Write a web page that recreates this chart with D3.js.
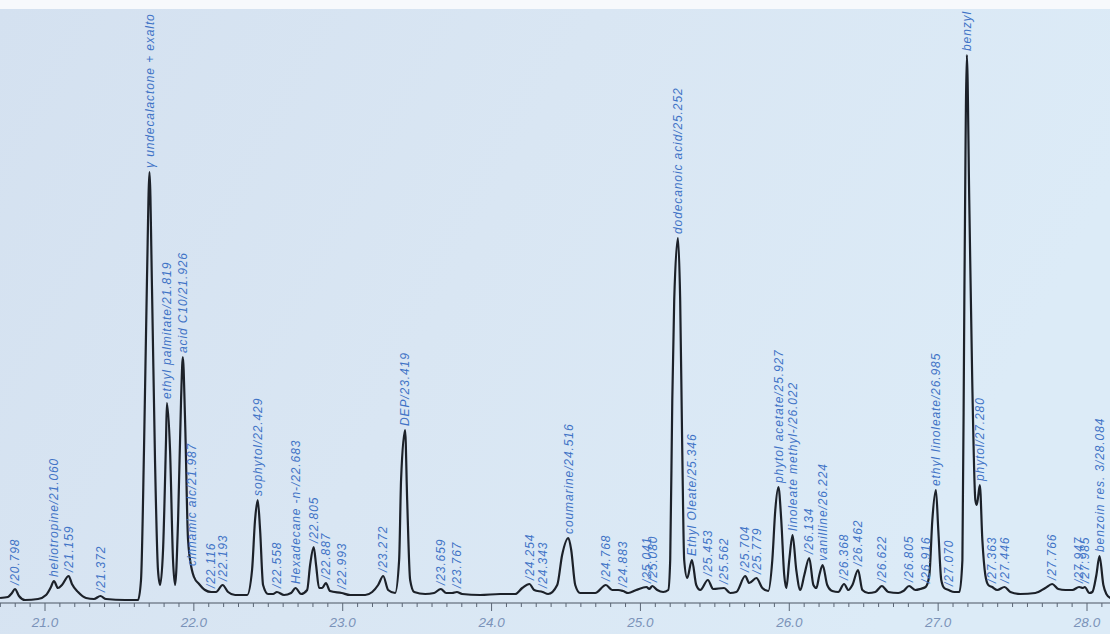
<!DOCTYPE html>
<html>
<head>
<meta charset="utf-8">
<script src="https://cdn.jsdelivr.net/npm/d3@7"></script>
<style>
  html, body { margin: 0; padding: 0; background: #d8e5f2; }
  svg { display: block; }
</style>
</head>
<body>
<svg id="chrom" width="1110" height="634"></svg>
<script>
// retention time (min) / signal
const traceTime = [
  20.698, 20.751, 20.778, 20.798, 20.825, 20.866, 20.953, 21.007, 21.040, 21.060,
  21.087, 21.114, 21.159, 21.181, 21.222, 21.276, 21.329, 21.372, 21.410, 21.538,
  21.625, 21.645, 21.665, 21.685, 21.702, 21.719, 21.739, 21.759, 21.773, 21.793,
  21.813, 21.819, 21.840, 21.860, 21.874, 21.894, 21.914, 21.926, 21.941, 21.961,
  21.987, 22.001, 22.035, 22.075, 22.116, 22.149, 22.193, 22.230, 22.277, 22.358,
  22.391, 22.411, 22.429, 22.445, 22.465, 22.499, 22.532, 22.558, 22.606, 22.653,
  22.683, 22.720, 22.761, 22.781, 22.805, 22.821, 22.841, 22.862, 22.887, 22.915,
  22.993, 23.050, 23.151, 23.198, 23.238, 23.272, 23.305, 23.352, 23.379, 23.392,
  23.419, 23.433, 23.453, 23.480, 23.554, 23.614, 23.659, 23.695, 23.735, 23.767,
  23.802, 23.923, 24.058, 24.159, 24.206, 24.254, 24.286, 24.343, 24.380, 24.441,
  24.474, 24.516, 24.535, 24.562, 24.595, 24.696, 24.768, 24.810, 24.851, 24.883,
  24.918, 24.972, 25.041, 25.059, 25.080, 25.113, 25.153, 25.187, 25.200, 25.214,
  25.227, 25.252, 25.267, 25.281, 25.294, 25.314, 25.346, 25.375, 25.402, 25.453,
  25.489, 25.562, 25.603, 25.644, 25.704, 25.731, 25.779, 25.819, 25.859, 25.886,
  25.906, 25.927, 25.946, 25.966, 25.980, 26.000, 26.022, 26.047, 26.074, 26.101,
  26.134, 26.162, 26.182, 26.202, 26.224, 26.255, 26.289, 26.329, 26.368, 26.397,
  26.424, 26.462, 26.491, 26.531, 26.578, 26.622, 26.665, 26.732, 26.766, 26.805,
  26.847, 26.880, 26.916, 26.941, 26.961, 26.985, 27.001, 27.021, 27.041, 27.070,
  27.109, 27.143, 27.163, 27.176, 27.193, 27.209, 27.229, 27.250, 27.260, 27.280,
  27.297, 27.317, 27.337, 27.363, 27.397, 27.446, 27.485, 27.552, 27.653, 27.720,
  27.766, 27.807, 27.855, 27.902, 27.947, 27.973, 27.985, 28.016, 28.036, 28.063,
  28.084, 28.110, 28.130, 28.157
];
const traceSignal = [
  2, 3, 7, 11, 4, 0, 1, 5, 13, 19,
  12, 15, 24, 16, 8, 2, 1, 4, 1, 0,
  0, 20, 150, 320, 428, 310, 140, 30, 15, 50,
  160, 197, 150, 40, 15, 80, 200, 243, 180, 60,
  30, 23, 16, 10, 8, 8, 15, 8, 5, 5,
  30, 80, 100, 70, 15, 6, 6, 8, 5, 7,
  12, 6, 10, 35, 53, 35, 12, 12, 17, 9,
  7, 5, 5, 8, 15, 24, 10, 7, 40, 120,
  170, 100, 20, 8, 6, 7, 11, 7, 7, 8,
  6, 5, 6, 6, 12, 16, 10, 8, 6, 15,
  45, 62, 50, 15, 7, 7, 15, 10, 10, 9,
  7, 10, 13, 11, 14, 10, 8, 10, 40, 200,
  300, 362, 300, 150, 40, 22, 40, 15, 10, 20,
  11, 12, 7, 8, 24, 17, 22, 12, 9, 40,
  90, 113, 80, 25, 12, 40, 65, 30, 10, 25,
  42, 15, 12, 25, 35, 15, 9, 8, 16, 10,
  15, 30, 10, 7, 8, 14, 8, 7, 9, 14,
  10, 11, 13, 25, 80, 110, 70, 20, 12, 10,
  8, 8, 40, 300, 545, 400, 220, 100, 95, 115,
  60, 25, 15, 13, 10, 13, 8, 6, 7, 12,
  16, 11, 10, 10, 13, 12, 13, 7, 8, 25,
  44, 15, 6, 2
];

// peak annotations: retention time, apex signal, printed text
// (the two tallest labels run off the top of the sheet; only the visible part is kept)
const peakTimes = [
  20.798, 21.060, 21.159, 21.372, 21.702, 21.819, 21.926, 21.987, 22.116, 22.193,
  22.429, 22.558, 22.683, 22.805, 22.887, 22.993, 23.272, 23.419, 23.659, 23.767,
  24.254, 24.343, 24.516, 24.768, 24.883, 25.041, 25.080, 25.252, 25.346, 25.453,
  25.562, 25.704, 25.779, 25.927, 26.022, 26.134, 26.224, 26.368, 26.462, 26.622,
  26.805, 26.916, 26.985, 27.070, 27.193, 27.280, 27.363, 27.446, 27.766, 27.947,
  27.985, 28.084
];
const peakHeights = [
  11, 19, 24, 4, 428, 197, 243, 30, 8, 15,
  100, 8, 12, 53, 17, 7, 24, 170, 11, 8,
  16, 8, 62, 15, 9, 13, 14, 362, 40, 20,
  12, 24, 22, 113, 65, 42, 35, 16, 30, 14,
  14, 13, 110, 10, 545, 115, 13, 13, 16, 13,
  13, 44
];
const peakNames = [
  "/20.798", "heliotropine/21.060", "/21.159", "/21.372",
  "γ undecalactone + exalto", "ethyl palmitate/21.819", "acid C10/21.926",
  "cinnamic alc/21.987", "/22.116", "/22.193", "sophytol/22.429", "/22.558",
  "Hexadecane -n-/22.683", "/22.805", "/22.887", "/22.993", "/23.272", "DEP/23.419",
  "/23.659", "/23.767", "/24.254", "/24.343", "coumarine/24.516", "/24.768", "/24.883",
  "/25.041", "/25.080", "dodecanoic acid/25.252", "Ethyl Oleate/25.346", "/25.453",
  "/25.562", "/25.704", "/25.779", "phytol acetate/25.927", "linoleate methyl-/26.022",
  "/26.134", "vanilline/26.224", "/26.368", "/26.462", "/26.622", "/26.805", "/26.916",
  "ethyl linoleate/26.985", "/27.070", "benzyl", "phytol/27.280",
  "/27.363", "/27.446", "/27.766", "/27.947", "/27.985", "benzoin res. 3/28.084"
];

const majorTicks = [21, 22, 23, 24, 25, 26, 27, 28];

const W = 1110, H = 634;
const AXIS_Y = 603;

const svg = d3.select("#chrom");

// paper background
const defs = svg.append("defs");
const grad = defs.append("linearGradient").attr("id", "paper")
    .attr("x1", "0").attr("y1", "0").attr("x2", "1").attr("y2", "0.3");
grad.append("stop").attr("offset", "0").attr("stop-color", "#d4e1f0");
grad.append("stop").attr("offset", "0.5").attr("stop-color", "#d9e6f3");
grad.append("stop").attr("offset", "1").attr("stop-color", "#dcebf7");
svg.append("rect").attr("width", W).attr("height", H).attr("fill", "url(#paper)");

const x = d3.scaleLinear().domain([21, 28]).range([45, 1087]);
const y = d3.scaleLinear().domain([0, 600]).range([600, 0]);

// ── Axis ──────────────────────────────────────────────────────────
const minor = d3.range(20.7, 28.16, 0.1).map(v => +v.toFixed(1));
svg.append("line")
    .attr("x1", 0).attr("x2", W).attr("y1", AXIS_Y).attr("y2", AXIS_Y)
    .attr("stroke", "#4b5563").attr("stroke-width", 1.2);

svg.append("g").selectAll("line").data(minor).join("line")
    .attr("x1", d => x(d)).attr("x2", d => x(d))
    .attr("y1", AXIS_Y)
    .attr("y2", d => Math.abs(d - Math.round(d)) < 1e-6 ? AXIS_Y + 8 : AXIS_Y + 4)
    .attr("stroke", "#5b6675").attr("stroke-width", 1);

svg.append("g").selectAll("text").data(majorTicks).join("text")
    .attr("x", d => x(d)).attr("y", AXIS_Y + 24)
    .attr("text-anchor", "middle")
    .attr("font-family", "Liberation Sans, Arial, sans-serif")
    .attr("font-style", "italic").attr("font-size", 13.5)
    .attr("fill", "#7b93b9")
    .text(d => d.toFixed(1));

// ── Trace ─────────────────────────────────────────────────────────
const pts = traceTime.map((t, i) => [t, traceSignal[i]]);
const line = d3.line()
    .x(d => x(d[0])).y(d => y(d[1]))
    .curve(d3.curveMonotoneX);

svg.append("path")
    .datum(pts)
    .attr("d", line)
    .attr("fill", "none")
    .attr("stroke", "#1c2129")
    .attr("stroke-width", 2.2)
    .attr("stroke-linejoin", "round");

// ── Peak labels ───────────────────────────────────────────────────
svg.append("g").selectAll("text").data(peakTimes).join("text")
    .attr("transform", (t, i) => `translate(${x(t)},${y(peakHeights[i]) - 4}) rotate(-90)`)
    .attr("dy", "0.35em")
    .attr("text-anchor", "start")
    .attr("font-family", "Liberation Sans, Arial, sans-serif")
    .attr("font-style", "italic").attr("font-size", 12)
    .attr("letter-spacing", "0.9")
    .attr("fill", "#3f73c6")
    .text((t, i) => peakNames[i]);

// white paper edge across the top
svg.append("rect").attr("x", 0).attr("y", 0).attr("width", W).attr("height", 9)
    .attr("fill", "#f7f9fc");
</script>
</body>
</html>
